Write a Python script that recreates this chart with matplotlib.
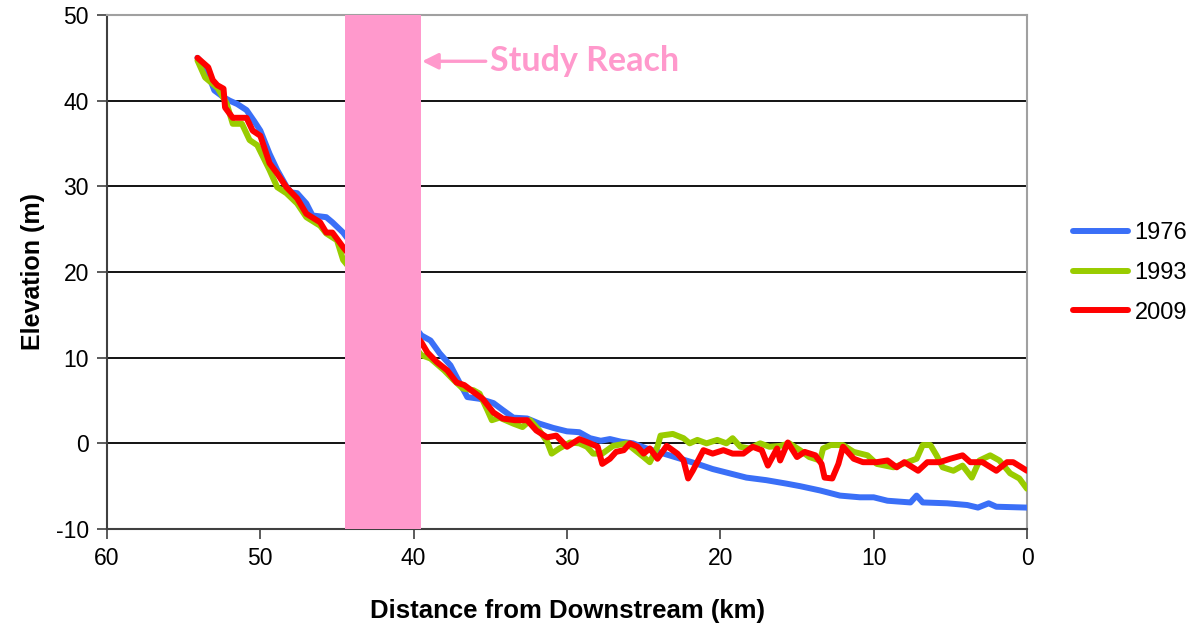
import matplotlib
matplotlib.use("Agg")
import matplotlib.pyplot as plt

# Longitudinal river profile data (distance upstream in km, bed elevation in m)
km_1976 = [54.1, 53.6, 53.0, 52.4, 52.0, 51.5, 50.9, 50.4, 50.0, 49.4, 48.9, 48.3, 48.0, 47.6,
           47.0, 46.6, 45.7, 45.3, 44.6, 39.5, 38.9, 38.3, 37.6, 37.1, 36.5, 35.7, 34.8, 34.2,
           33.5, 32.6, 31.8, 30.9, 30.0, 29.2, 28.5, 27.8, 27.2, 26.5, 25.7, 24.8, 23.7, 22.6,
           21.5, 20.5, 19.4, 18.3, 17.0, 15.7, 14.8, 13.5, 12.2, 10.9, 10.0, 9.1, 7.6, 7.2,
           6.8, 5.2, 3.9, 3.2, 2.5, 2.0, 0.0]
elev_1976 = [45.0, 44.0, 41.2, 40.4, 40.0, 39.6, 38.9, 37.6, 36.5, 33.8, 31.9, 30.0, 29.3, 29.2,
             28.0, 26.6, 26.4, 25.8, 24.6, 12.6, 12.0, 10.5, 9.1, 7.4, 5.4, 5.2, 4.7, 3.9,
             3.0, 2.9, 2.3, 1.8, 1.4, 1.3, 0.6, 0.3, 0.5, 0.2, 0.0, -0.6, -1.2, -1.8,
             -2.4, -3.0, -3.5, -4.0, -4.3, -4.7, -5.0, -5.5, -6.1, -6.3, -6.3, -6.7, -6.9, -6.1,
             -6.9, -7.0, -7.2, -7.5, -7.0, -7.4, -7.5]

km_1993 = [54.1, 53.6, 52.8, 52.2, 51.8, 51.2, 50.7, 50.2, 49.4, 48.9, 48.3, 47.6, 47.0, 46.1,
           45.7, 45.0, 44.6, 39.5, 38.9, 38.0, 37.4, 36.8, 36.1, 35.7, 35.2, 34.9, 34.4, 33.5,
           32.9, 32.4, 31.8, 31.3, 31.0, 30.5, 29.8, 29.2, 28.7, 28.3, 27.7, 27.0, 26.1, 25.7,
           25.0, 24.6, 24.1, 23.9, 23.1, 22.4, 22.0, 21.5, 20.9, 20.2, 19.6, 19.2, 18.7, 18.1,
           17.4, 16.8, 16.1, 15.5, 14.8, 14.2, 13.5, 13.3, 12.8, 12.0, 11.3, 10.4, 9.8, 8.7,
           8.1, 7.2, 6.8, 6.3, 5.9, 5.5, 4.8, 4.2, 3.6, 3.1, 2.4, 1.8, 1.1, 0.5, 0.0]
elev_1993 = [44.7, 42.7, 41.5, 39.7, 37.3, 37.3, 35.4, 34.8, 31.9, 29.9, 29.2, 28.0, 26.4, 25.4,
             24.5, 23.7, 21.4, 10.3, 9.9, 8.5, 7.4, 6.4, 6.2, 5.8, 3.9, 2.7, 3.0, 2.3,
             1.9, 2.7, 1.5, 0.2, -1.2, -0.6, 0.1, 0.0, -0.4, -1.2, -1.2, -0.3, 0.0, -0.6,
             -1.6, -2.2, -0.4, 0.9, 1.1, 0.6, 0.0, 0.4, 0.0, 0.4, 0.0, 0.6, -0.4, -0.6,
             0.0, -0.4, -0.3, 0.0, -0.8, -1.6, -2.0, -0.6, -0.2, -0.2, -1.0, -1.4, -2.4, -2.8,
             -2.4, -1.8, -0.2, -0.2, -1.4, -2.8, -3.2, -2.6, -4.0, -2.0, -1.4, -2.0, -3.5, -4.1, -5.3]

km_2009 = [54.1, 53.4, 53.1, 52.8, 52.4, 52.3, 51.8, 50.9, 50.5, 50.0, 49.4, 48.9, 48.3, 47.6,
           47.0, 46.1, 45.7, 45.3, 44.6, 39.5, 39.1, 38.5, 37.8, 37.2, 36.7, 36.1, 35.5, 34.8,
           34.2, 33.4, 32.6, 32.0, 31.3, 30.7, 30.0, 29.2, 28.5, 28.0, 27.7, 27.2, 26.8, 26.3,
           25.9, 25.4, 25.0, 24.6, 24.1, 23.5, 22.8, 22.4, 22.1, 21.8, 21.1, 20.5, 19.8, 19.2,
           18.5, 17.9, 17.3, 16.9, 16.3, 16.1, 15.6, 15.0, 14.5, 13.8, 13.4, 13.2, 12.7, 12.3,
           12.0, 11.3, 10.7, 9.8, 9.1, 8.5, 8.0, 7.1, 6.5, 5.7, 5.0, 4.2, 3.7, 2.9,
           2.0, 1.3, 0.9, 0.0]
elev_2009 = [45.0, 43.9, 42.4, 41.8, 41.4, 39.2, 38.0, 38.0, 36.5, 35.9, 32.7, 31.5, 29.9, 28.6,
             26.8, 25.8, 24.6, 24.6, 22.9, 11.8, 10.6, 9.5, 8.5, 7.1, 6.8, 6.0, 5.2, 3.6,
             2.9, 2.7, 2.7, 1.5, 0.7, 0.9, -0.4, 0.5, 0.0, -0.4, -2.4, -1.8, -1.0, -0.8,
             0.0, -0.4, -1.2, -0.6, -1.8, -0.3, -1.2, -2.0, -4.1, -3.2, -0.8, -1.2, -0.8, -1.2,
             -1.2, -0.4, -0.8, -2.6, -0.6, -2.0, 0.1, -1.6, -1.0, -1.4, -2.4, -4.0, -4.1, -2.4,
             -0.4, -1.8, -2.2, -2.2, -2.0, -2.8, -2.2, -3.2, -2.2, -2.2, -1.8, -1.4, -2.2, -2.2,
             -3.2, -2.2, -2.2, -3.2]

study_reach = (39.5, 44.5)
x_ticks = [60, 50, 40, 30, 20, 10, 0]
y_ticks = [-10, 0, 10, 20, 30, 40, 50]

plt.rcParams['font.family'] = ['Liberation Sans', 'DejaVu Sans']
plt.rcParams['axes.unicode_minus'] = False

fig = plt.figure(figsize=(11.95, 6.31), dpi=100)
ax = fig.add_axes([107 / 1195, 1 - 529 / 631, 920 / 1195, 514 / 631])

for yv in y_ticks:
    ax.axhline(yv, color='black', lw=1.3, zorder=1)

lw = 4.3
l1, = ax.plot(km_1976, elev_1976, color='#3A6FF7', lw=lw, solid_capstyle='round',
              solid_joinstyle='round', label='1976', zorder=3)
l2, = ax.plot(km_1993, elev_1993, color='#99CC00', lw=lw, solid_capstyle='round',
              solid_joinstyle='round', label='1993', zorder=4)
l3, = ax.plot(km_2009, elev_2009, color='#FF0000', lw=lw, solid_capstyle='round',
              solid_joinstyle='round', label='2009', zorder=5)

ax.axvspan(study_reach[0], study_reach[1], color='#FF99CC', zorder=6, lw=0)

ax.annotate('', xy=(study_reach[0] - 0.05, 44.6), xytext=(35.3, 44.6),
            arrowprops=dict(arrowstyle='-|>', color='#FF99CC', lw=2.4,
                            mutation_scale=24, shrinkA=0, shrinkB=0), zorder=7)
ax.text(35.0, 44.6, 'Study Reach', color='#FF99CC', fontsize=24.5, fontweight='bold',
        family=['Lato', 'DejaVu Sans'], va='center', ha='left', zorder=7)

ax.set_xlim(60, 0)
ax.set_ylim(-10, 50)
ax.set_xticks(x_ticks)
ax.set_yticks(y_ticks)
ax.tick_params(axis='both', direction='out', length=7, width=1.2, labelsize=16.5,
               color='#404040', pad=6)

for side in ('left', 'bottom'):
    ax.spines[side].set_color('#404040')
    ax.spines[side].set_linewidth(1.5)
for side in ('top', 'right'):
    ax.spines[side].set_color('#A0A0A0')
    ax.spines[side].set_linewidth(1.5)

ax.set_xlabel('Distance from Downstream (km)', fontsize=18.5, fontweight='bold', labelpad=21)
ax.set_ylabel('Elevation (m)', fontsize=18, fontweight='bold', labelpad=8)

fig.legend(handles=[l1, l2, l3], loc='center left', bbox_to_anchor=(1052 / 1195, 1 - 273 / 631),
           frameon=False, fontsize=17, handlelength=2.3, handletextpad=0.3,
           labelspacing=0.75)

fig.savefig('out.png', dpi=100)
